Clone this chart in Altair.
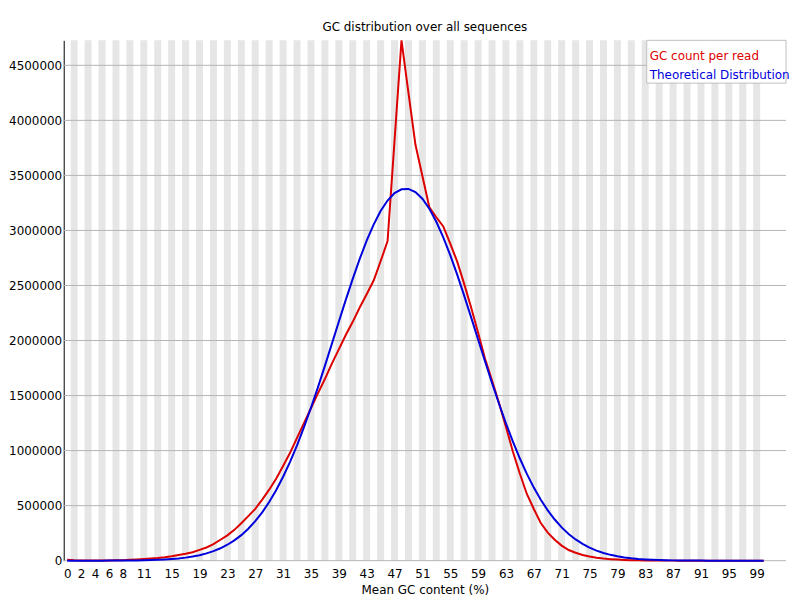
import altair as alt
import pandas as pd

# ---------------- data ----------------
categories = list(range(101))

gc_count = [
    8000, 3000, 2000, 2000, 2000, 2000, 2000, 3000, 5000, 8000,
    11000, 15000, 19000, 24000, 31000, 40000, 52000, 63000, 77000, 98000,
    120000, 150000, 190000, 230000, 280000, 340000, 405000, 470000, 555000, 645000,
    745000, 860000, 980000, 1115000, 1250000, 1385000, 1520000, 1650000, 1790000, 1920000,
    2050000, 2170000, 2300000, 2420000, 2545000, 2720000, 2903000, 3815000, 4727000, 4250000,
    3780000, 3495000, 3210000, 3120000, 3036000, 2880000, 2717000, 2515000, 2300000, 2070000,
    1835000, 1637000, 1434000, 1215000, 990000, 790000, 606000, 470000, 342000, 255000,
    190000, 137000, 97000, 72000, 52000, 38000, 27000, 19000, 14000, 10000,
    7000, 5000, 3000, 2000, 1000, 1000, 500, 500, 0, 0,
    0, 0, 0, 0, 0, 0, 0, 0, 0, 0, 0,
]

theoretical = [
    0, 0, 0, 0, 0, 400, 600, 900, 1200, 1800,
    2600, 3800, 5400, 7700, 10700, 14900, 20400, 27800, 37500, 50000,
    66200, 86900, 112800, 144700, 184200, 232200, 290000, 358500, 439000, 533000,
    640500, 762500, 898000, 1048000, 1213000, 1389000, 1575000, 1770000, 1970000, 2170000,
    2369000, 2560000, 2741000, 2907000, 3053000, 3176000, 3272000, 3339000, 3374000, 3377000,
    3348000, 3288000, 3197000, 3079000, 2938000, 2776000, 2598000, 2408000, 2210000, 2009000,
    1810000, 1614000, 1426000, 1247000, 1081000, 928000, 788500, 664000, 553500, 457000,
    374000, 302800, 243000, 193000, 152000, 118600, 91600, 70000, 53000, 39700,
    29500, 21700, 15800, 11400, 8200, 5800, 4050, 2800, 1900, 1300,
    870, 580, 380, 250, 160, 100, 60, 40, 25, 15, 10,
]

series_names = ["GC count per read", "Theoretical Distribution"]
series_colors = ["#dc0000", "#0000dc"]

x_tick_labels = [0, 2, 4, 6, 8, 11, 15, 19, 23, 27, 31, 35, 39, 43, 47, 51, 55,
                 59, 63, 67, 71, 75, 79, 83, 87, 91, 95, 99]
y_tick_values = [0, 500000, 1000000, 1500000, 2000000, 2500000, 3000000,
                 3500000, 4000000, 4500000]

title_text = "GC distribution over all sequences"
x_title = "Mean GC content (%)"

# ---------------- layout / style ----------------
W = 726
H = 523
FONT = "DejaVu Sans"
STRIPE = "#e6e6e6"
GRID = "#b4b4b4"

lines_df = pd.DataFrame({
    "gc": categories + categories,
    "count": gc_count + theoretical,
    "series": [series_names[0]] * len(categories) + [series_names[1]] * len(categories),
})
stripes_df = pd.DataFrame({
    "start": [c - 0.5 for c in categories if c % 2 == 1],
    "end": [c + 0.5 for c in categories if c % 2 == 1],
})
grid_df = pd.DataFrame({"v": y_tick_values})

x_scale = alt.Scale(domain=[-0.5, -0.5 + W / 7.0], nice=False, zero=False)
y_scale = alt.Scale(domain=[0, max(gc_count)], nice=False, zero=True)

x_axis = alt.Axis(values=x_tick_labels, format="d", grid=False, ticks=False,
                  domain=False, labelFont=FONT, labelFontSize=12, labelColor="black",
                  labelPadding=8, labelOverlap=False, labelFlush=False,
                  title=x_title, titleFont=FONT, titleFontSize=12,
                  titleFontWeight="normal", titleColor="black", titlePadding=5)
y_axis = alt.Axis(values=y_tick_values, format="d", grid=False, ticks=False,
                  domain=True, domainColor="black", domainWidth=1,
                  labelFont=FONT, labelFontSize=12, labelColor="black",
                  labelPadding=2, labelFlush=False, title=None)

stripes = alt.Chart(stripes_df).mark_rect(fill=STRIPE, strokeWidth=0).encode(
    x=alt.X("start:Q", scale=x_scale, axis=x_axis),
    x2="end:Q",
)

grid = alt.Chart(grid_df).mark_rule(color=GRID, strokeWidth=1).encode(
    y=alt.Y("v:Q", scale=y_scale, axis=y_axis),
)

lines = alt.Chart(lines_df).mark_line(strokeWidth=2, interpolate="linear").encode(
    x=alt.X("gc:Q", scale=x_scale, axis=x_axis),
    y=alt.Y("count:Q", scale=y_scale, axis=y_axis),
    color=alt.Color("series:N", scale=alt.Scale(domain=series_names, range=series_colors),
                    legend=None),
    detail="series:N",
)

legend_box = alt.Chart(pd.DataFrame({"k": [0]})).mark_rect(
    fill="white", stroke="#c0c0c0", strokeWidth=1
).encode(
    x=alt.value(W - 140), x2=alt.value(W), y=alt.value(0), y2=alt.value(43)
)

legend_t1 = alt.Chart(pd.DataFrame({"label": [series_names[0]]})).mark_text(
    align="left", baseline="middle", font=FONT, fontSize=12
).encode(
    x=alt.value(W - 137), y=alt.value(16), text="label:N",
    color=alt.value(series_colors[0]),
)
legend_t2 = alt.Chart(pd.DataFrame({"label": [series_names[1]]})).mark_text(
    align="left", baseline="middle", font=FONT, fontSize=12
).encode(
    x=alt.value(W - 137), y=alt.value(35), text="label:N",
    color=alt.value(series_colors[1]),
)

chart = alt.layer(stripes, grid, lines, legend_box, legend_t1, legend_t2).properties(
    width=W,
    height=H,
    title=alt.TitleParams(text=title_text, font=FONT, fontSize=12, fontWeight="normal",
                          color="black", anchor="middle", frame="group", offset=2),
    padding={"left": 0, "top": 12, "right": 2, "bottom": 0},
    background="white",
).configure_view(strokeWidth=0)

chart.save("out.html", embed_options={"renderer": "svg", "actions": False})
